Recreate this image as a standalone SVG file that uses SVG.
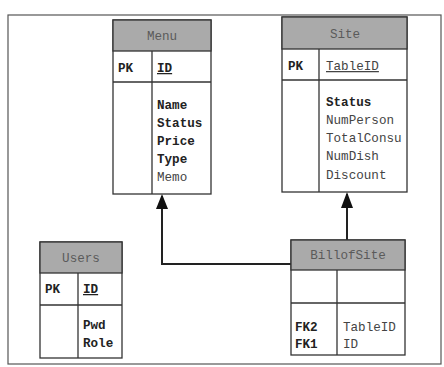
<svg xmlns="http://www.w3.org/2000/svg" width="444" height="367" viewBox="0 0 444 367">
<defs>
<style>
.box{fill:#fff;stroke:#333;stroke-width:1.3}
.hdr{fill:#aaa;stroke:#333;stroke-width:1.3}
.ln{stroke:#333;stroke-width:1.3;fill:none}
.t{font-family:"Liberation Mono","DejaVu Sans Mono",monospace;font-size:12.6px;fill:#222;font-weight:bold}
.tl{font-family:"Liberation Mono","DejaVu Sans Mono",monospace;font-size:12.6px;fill:#444}
.h{font-family:"Liberation Mono","DejaVu Sans Mono",monospace;font-size:12.6px;fill:#5a5a5a;text-anchor:middle}
.con{stroke:#222;stroke-width:2;fill:none}
</style>
</defs>
<rect x="0" y="0" width="444" height="367" fill="#fff"/>
<rect x="8" y="15" width="433" height="349" fill="none" stroke="#555" stroke-width="1.2"/>

<g id="connectors">
<polyline class="con" points="291,264 162,264 162,196"/>
<line class="con" x1="347" y1="240" x2="347" y2="194"/>
<path d="M162,194 L168,209 L156,209 Z" fill="#111"/>
<path d="M347,192 L353,208 L341,208 Z" fill="#111"/>
</g>

<g id="menu">
<rect class="box" x="113" y="20" width="98" height="174"/>
<rect class="hdr" x="113" y="20" width="98" height="31"/>
<line class="ln" x1="113" y1="82" x2="211" y2="82"/>
<line class="ln" x1="152" y1="51" x2="152" y2="194"/>
<text class="h" x="162" y="40">Menu</text>
<text class="t" x="118" y="72">PK</text>
<text class="t" x="157" y="72" text-decoration="underline">ID</text>
<text class="t" x="157" y="109">Name</text>
<text class="t" x="157" y="127">Status</text>
<text class="t" x="157" y="145">Price</text>
<text class="t" x="157" y="163">Type</text>
<text class="tl" x="157" y="181">Memo</text>
</g>

<g id="site">
<rect class="box" x="282" y="17" width="125" height="175"/>
<rect class="hdr" x="282" y="17" width="125" height="32"/>
<line class="ln" x1="282" y1="80" x2="407" y2="80"/>
<line class="ln" x1="319" y1="49" x2="319" y2="192"/>
<text class="h" x="345" y="38">Site</text>
<text class="t" x="288" y="70">PK</text>
<text class="tl" x="326" y="70" text-decoration="underline">TableID</text>
<text class="t" x="326" y="106">Status</text>
<text class="tl" x="326" y="124">NumPerson</text>
<text class="tl" x="326" y="142">TotalConsu</text>
<text class="tl" x="326" y="160">NumDish</text>
<text class="tl" x="326" y="179">Discount</text>
</g>

<g id="users">
<rect class="box" x="40" y="242" width="82" height="116"/>
<rect class="hdr" x="40" y="242" width="82" height="31"/>
<line class="ln" x1="40" y1="305" x2="122" y2="305"/>
<line class="ln" x1="78" y1="273" x2="78" y2="358"/>
<text class="h" x="81" y="262">Users</text>
<text class="t" x="45" y="293">PK</text>
<text class="t" x="83" y="293" text-decoration="underline">ID</text>
<text class="t" x="83" y="329">Pwd</text>
<text class="t" x="83" y="347">Role</text>
</g>

<g id="billofsite">
<rect class="box" x="291" y="240" width="114" height="115"/>
<rect class="hdr" x="291" y="240" width="114" height="30"/>
<line class="ln" x1="291" y1="303" x2="405" y2="303"/>
<line class="ln" x1="337" y1="270" x2="337" y2="355"/>
<text class="h" x="348" y="259">BillofSite</text>
<text class="t" x="295" y="331">FK2</text>
<text class="t" x="295" y="348">FK1</text>
<text class="tl" x="343" y="331">TableID</text>
<text class="tl" x="343" y="348">ID</text>
</g>
</svg>
